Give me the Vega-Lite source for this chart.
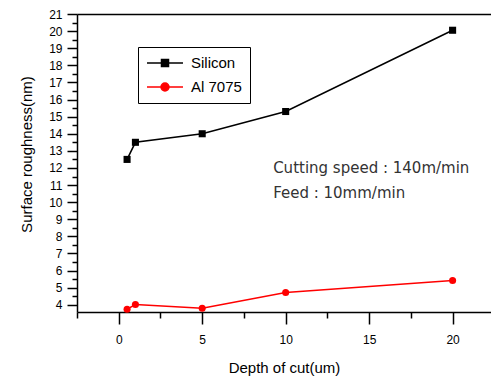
{
  "$schema": "https://vega.github.io/schema/vega-lite/v6.json",
  "width": 414,
  "height": 298,
  "autosize": {"type": "none"},
  "padding": {"left": 77, "top": 14, "right": 0, "bottom": 65},
  "background": "white",
  "datasets": {
    "rough": [
      {"depth": 0.5, "roughness": 12.5, "material": "Silicon"},
      {"depth": 1, "roughness": 13.5, "material": "Silicon"},
      {"depth": 5, "roughness": 14.0, "material": "Silicon"},
      {"depth": 10, "roughness": 15.3, "material": "Silicon"},
      {"depth": 20, "roughness": 20.05, "material": "Silicon"},
      {"depth": 0.5, "roughness": 3.74, "material": "Al 7075"},
      {"depth": 1, "roughness": 4.02, "material": "Al 7075"},
      {"depth": 5, "roughness": 3.8, "material": "Al 7075"},
      {"depth": 10, "roughness": 4.72, "material": "Al 7075"},
      {"depth": 20, "roughness": 5.42, "material": "Al 7075"}
    ]
  },
  "config": {
    "view": {"stroke": null},
    "axis": {
      "domainColor": "black",
      "domainWidth": 1.5,
      "tickColor": "black",
      "tickWidth": 1.5,
      "grid": false,
      "labelColor": "black",
      "labelFont": "Liberation Sans",
      "labelFontSize": 12,
      "titleColor": "black",
      "titleFont": "Liberation Sans",
      "titleFontWeight": "normal",
      "titleFontSize": 15
    }
  },
  "layer": [
    {
      "data": {"name": "rough"},
      "mark": {"type": "line", "strokeWidth": 1.5},
      "encoding": {
        "x": {
          "field": "depth", "type": "quantitative",
          "scale": {"domain": [-2.5, 22.3], "nice": false, "zero": false},
          "axis": {
            "orient": "bottom",
            "values": [0, 5, 10, 15, 20],
            "tickSize": 12,
            "labelPadding": 10,
            "title": "Depth of cut(um)",
            "titleY": 60,
            "titleBaseline": "alphabetic"
          }
        },
        "y": {
          "field": "roughness", "type": "quantitative",
          "scale": {"domain": [3.58, 21], "nice": false, "zero": false},
          "axis": {
            "orient": "left",
            "values": [4, 5, 6, 7, 8, 9, 10, 11, 12, 13, 14, 15, 16, 17, 18, 19, 20, 21],
            "tickSize": 10,
            "labelPadding": 5,
            "title": "Surface roughness(nm)",
            "titleX": -46,
            "titleY": 140,
            "titleAngle": -90,
            "titleAlign": "center",
            "titleBaseline": "alphabetic"
          }
        },
        "color": {
          "field": "material", "type": "nominal",
          "scale": {"domain": ["Silicon", "Al 7075"], "range": ["black", "red"]},
          "legend": {
            "orient": "none",
            "legendX": 61,
            "legendY": 33,
            "title": null,
            "strokeColor": "black",
            "fillColor": "white",
            "padding": 8,
            "rowPadding": 8,
            "symbolSize": 196,
            "symbolOffset": 11,
            "labelOffset": 18,
            "labelFont": "Liberation Sans",
            "labelFontSize": 15,
            "labelColor": "black",
            "symbolStrokeWidth": 1.5,
            "encode": {
              "symbols": {
                "update": {
                  "shape": {"signal": "datum.value === 'Silicon' ? 'M-2.57,0H2.57M-0.5,-0.5H0.5V0.5H-0.5Z' : 'M-2.57,0H2.57M0.57,0A0.57,0.57,0,1,1,-0.57,0A0.57,0.57,0,1,1,0.57,0Z'"},
                  "fill": {"signal": "datum.value === 'Silicon' ? 'black' : 'red'"},
                  "stroke": {"signal": "datum.value === 'Silicon' ? 'black' : 'red'"},
                  "strokeWidth": {"value": 1.5},
                  "opacity": {"value": 1},
                  "fillOpacity": {"value": 1},
                  "strokeOpacity": {"value": 1}
                }
              }
            }
          }
        }
      }
    },
    {
      "data": {"name": "rough"},
      "transform": [{"filter": "datum.material === 'Silicon'"}],
      "mark": {"type": "point", "shape": "square", "filled": true, "size": 50, "opacity": 1, "color": "black"},
      "encoding": {
        "x": {
          "field": "depth", "type": "quantitative",
          "scale": {"domain": [-2.5, 22.3], "nice": false, "zero": false},
          "axis": {
            "orient": "bottom",
            "values": [-2.5, 2.5, 7.5, 12.5, 17.5],
            "tickSize": 6,
            "labels": false,
            "domain": false,
            "title": null
          }
        },
        "y": {
          "field": "roughness", "type": "quantitative",
          "scale": {"domain": [3.58, 21], "nice": false, "zero": false},
          "axis": {
            "orient": "left",
            "values": [4.5, 5.5, 6.5, 7.5, 8.5, 9.5, 10.5, 11.5, 12.5, 13.5, 14.5, 15.5, 16.5, 17.5, 18.5, 19.5, 20.5],
            "tickSize": 5,
            "labels": false,
            "domain": false,
            "title": null
          }
        }
      }
    },
    {
      "data": {"name": "rough"},
      "transform": [{"filter": "datum.material === 'Al 7075'"}],
      "mark": {"type": "point", "shape": "circle", "filled": true, "size": 50, "opacity": 1, "color": "red"},
      "encoding": {
        "x": {
          "field": "depth", "type": "quantitative",
          "scale": {"domain": [-2.5, 22.3], "nice": false, "zero": false},
          "axis": null
        },
        "y": {
          "field": "roughness", "type": "quantitative",
          "scale": {"domain": [3.58, 21], "nice": false, "zero": false},
          "axis": null
        }
      }
    },
    {
      "data": {
        "values": [
          {"xpos": 9.25, "ypos": 11.68, "label": "Cutting speed : 140m/min"},
          {"xpos": 9.25, "ypos": 10.25, "label": "Feed : 10mm/min"}
        ]
      },
      "mark": {"type": "text", "align": "left", "baseline": "alphabetic", "font": "DejaVu Sans", "fontSize": 15, "color": "#333333"},
      "encoding": {
        "x": {
          "field": "xpos", "type": "quantitative",
          "scale": {"domain": [-2.5, 22.3], "nice": false, "zero": false},
          "axis": {"orient": "top", "ticks": false, "labels": false, "title": null, "values": []}
        },
        "y": {
          "field": "ypos", "type": "quantitative",
          "scale": {"domain": [3.58, 21], "nice": false, "zero": false},
          "axis": null
        },
        "text": {"field": "label", "type": "nominal"}
      }
    }
  ],
  "resolve": {"axis": {"x": "independent", "y": "independent"}}
}
